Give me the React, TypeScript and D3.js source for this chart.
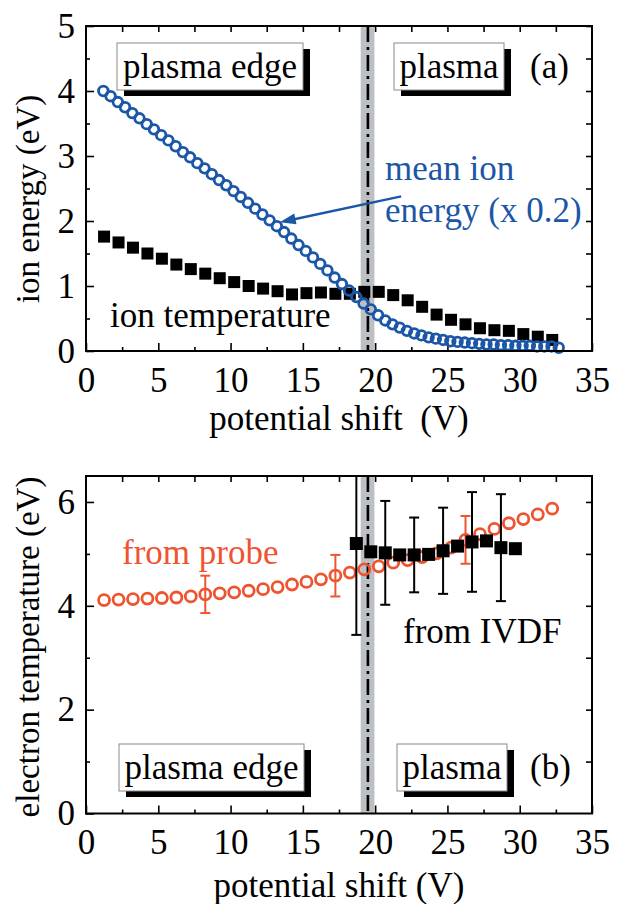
import * as d3 from 'd3'
import { useEffect, useRef } from 'react'

const W = 621
const H = 904
const FONT = "'Liberation Serif', 'Times New Roman', serif"
const BLUE = '#1b56a7'
const ORANGE = '#ef5430'

// panel (a): mean ion energy (x 0.2), open circles
const energyShift = [
  1.2, 1.7, 2.2, 2.7, 3.2, 3.7, 4.2, 4.7, 5.2, 5.7, 6.2, 6.7, 7.2, 7.7, 8.2, 8.7,
  9.2, 9.7, 10.2, 10.7, 11.2, 11.7, 12.2, 12.7, 13.2, 13.7, 14.2, 14.7, 15.2, 15.7, 16.2, 16.7,
  17.2, 17.7, 18.2, 18.7, 19.2, 19.7, 20.2, 20.7, 21.2, 21.7, 22.2, 22.7, 23.2, 23.7, 24.2, 24.7,
  25.2, 25.7, 26.2, 26.7, 27.2, 27.7, 28.2, 28.7, 29.2, 29.7, 30.2, 30.7, 31.2, 31.7, 32.2, 32.7
]
const meanEnergy = [
  4.0, 3.92, 3.83, 3.75, 3.66, 3.58, 3.49, 3.41, 3.32, 3.24, 3.15, 3.06, 2.98, 2.89, 2.81, 2.72,
  2.63, 2.55, 2.46, 2.37, 2.28, 2.19, 2.1, 2.01, 1.92, 1.83, 1.73, 1.63, 1.54, 1.44, 1.34, 1.24,
  1.13, 1.03, 0.93, 0.83, 0.73, 0.64, 0.55, 0.47, 0.41, 0.36, 0.31, 0.27, 0.24, 0.21, 0.19, 0.17,
  0.15, 0.14, 0.13, 0.12, 0.11, 0.1, 0.1, 0.09, 0.09, 0.08, 0.08, 0.08, 0.07, 0.07, 0.07, 0.05
]

// panel (a): ion temperature, filled squares
const ionTShift = [
  1.25, 2.25, 3.25, 4.25, 5.25, 6.25, 7.25, 8.25, 9.25, 10.25, 11.25, 12.25, 13.25, 14.25, 15.25, 16.25,
  17.25, 18.25, 19.25, 20.25, 21.25, 22.25, 23.25, 24.25, 25.25, 26.25, 27.25, 28.25, 29.25, 30.25, 31.25, 32.25
]
const ionTemp = [
  1.76, 1.67, 1.59, 1.5, 1.42, 1.33, 1.26, 1.19, 1.12, 1.06, 1.0, 0.96, 0.92, 0.87, 0.89, 0.9,
  0.88, 0.88, 0.91, 0.91, 0.86, 0.78, 0.68, 0.56, 0.48, 0.41, 0.35, 0.32, 0.31, 0.26, 0.22, 0.17
]

// panel (b): electron temperature from probe
const probeShift = [
  1.25, 2.25, 3.25, 4.25, 5.25, 6.25, 7.25, 8.25, 9.25, 10.25, 11.25, 12.25, 13.25, 14.25, 15.25, 16.25,
  17.25, 18.25, 19.25, 20.25, 21.25, 22.25, 23.25, 24.25, 25.25, 26.25, 27.25, 28.25, 29.25, 30.25, 31.25, 32.25
]
const probeTe = [
  4.11, 4.12, 4.13, 4.14, 4.15, 4.16, 4.18, 4.22, 4.24, 4.26, 4.29, 4.32, 4.36, 4.41, 4.46, 4.51,
  4.58, 4.64, 4.7, 4.76, 4.83, 4.88, 4.94, 5.01, 5.12, 5.27, 5.38, 5.48, 5.59, 5.67, 5.76, 5.87
]
const probeErr = [
  0, 0, 0, 0, 0, 0, 0, 0.36, 0, 0, 0, 0, 0, 0, 0, 0,
  0.4, 0, 0, 0, 0, 0, 0, 0, 0, 0.46, 0, 0, 0, 0, 0, 0
]

// panel (b): electron temperature from IVDF
const ivdfShift = [18.7, 19.7, 20.7, 21.7, 22.7, 23.7, 24.7, 25.7, 26.7, 27.7, 28.7, 29.7]
const ivdfTe = [5.2, 5.04, 5.02, 4.98, 4.98, 4.99, 5.06, 5.15, 5.23, 5.25, 5.12, 5.1]
const ivdfErr = [1.76, 0, 1.0, 0, 0.72, 0, 0.83, 0, 0.96, 0, 1.03, 0]

// sheath edge
const bandStart = 19.0
const bandEnd = 19.95
const edgeShift = 19.5

const x = d3.scaleLinear().domain([0, 35]).range([86, 592])

function drawPanel(svg, p) {
  const g = svg.append('g')
  const y = d3.scaleLinear().domain([0, p.yMax]).range([p.bottom, p.top])

  g.append('rect')
    .attr('x', x(bandStart)).attr('y', p.top)
    .attr('width', x(bandEnd) - x(bandStart)).attr('height', p.bottom - p.top)
    .attr('fill', '#bcc0c2')
  g.append('line')
    .attr('x1', x(edgeShift)).attr('x2', x(edgeShift))
    .attr('y1', p.top).attr('y2', p.bottom)
    .attr('stroke', 'black').attr('stroke-width', 2.6)
    .attr('stroke-dasharray', '16,5,3,5')

  // axes, inward ticks
  const addAxis = (axis, transform) => {
    const a = g.append('g').attr('transform', transform).call(axis)
    a.select('.domain').remove()
    a.selectAll('line').attr('stroke-width', 1.6)
    a.selectAll('text').attr('font-family', FONT).attr('font-size', 35).attr('fill', 'black')
    return a
  }
  addAxis(d3.axisBottom(x).tickValues(d3.range(0, 36, 5)).tickSizeInner(-8).tickSizeOuter(0).tickPadding(16),
    `translate(0,${p.bottom})`)
  addAxis(d3.axisBottom(x).tickValues(d3.range(2.5, 35, 5)).tickSize(-4).tickFormat(() => ''),
    `translate(0,${p.bottom})`)
  addAxis(d3.axisTop(x).tickValues(d3.range(2.5, 35, 2.5)).tickSize(-6).tickFormat(() => ''),
    `translate(0,${p.top})`)
  addAxis(d3.axisLeft(y).tickValues(d3.range(0, p.yMax + 0.01, p.yStep)).tickSizeInner(-8).tickSizeOuter(0)
    .tickPadding(11).tickFormat(d3.format('d')), `translate(86,0)`)
  addAxis(d3.axisLeft(y).tickValues(d3.range(p.yStep / 2, p.yMax, p.yStep)).tickSize(-4).tickFormat(() => ''),
    `translate(86,0)`)
  addAxis(d3.axisRight(y).tickValues(d3.range(p.yStep / 2, p.yMax + 0.01, p.yStep / 2)).tickSize(-6).tickFormat(() => ''),
    `translate(592,0)`)

  p.draw(g, y)

  g.append('rect')
    .attr('x', 86).attr('y', p.top).attr('width', 592 - 86).attr('height', p.bottom - p.top)
    .attr('fill', 'none').attr('stroke', 'black').attr('stroke-width', 2)

  // region boxes
  const box = (x0, x1, label) => {
    const by = p.boxTop
    g.append('rect').attr('x', x0 + 7).attr('y', by + 6).attr('width', x1 - x0).attr('height', 47).attr('fill', 'black')
    g.append('rect').attr('x', x0).attr('y', by).attr('width', x1 - x0).attr('height', 47)
      .attr('fill', 'white').attr('stroke', '#8a8a8a').attr('stroke-width', 1)
    g.append('text').attr('x', (x0 + x1) / 2).attr('y', by + 35).attr('text-anchor', 'middle')
      .attr('font-family', FONT).attr('font-size', 35).text(label)
  }
  box(p.edgeBox[0], p.edgeBox[1], 'plasma edge')
  box(p.plasmaBox[0], p.plasmaBox[1], 'plasma')
  g.append('text').attr('x', 530).attr('y', p.boxTop + 35)
    .attr('font-family', FONT).attr('font-size', 35).text(p.tag)

  g.append('text').attr('x', 339).attr('y', p.xLabelY).attr('text-anchor', 'middle')
    .attr('font-family', FONT).attr('font-size', 35)
    .style('white-space', 'pre').text(p.xLabel)
  g.append('text').attr('transform', `translate(39,${p.yLabelMid}) rotate(-90)`).attr('text-anchor', 'middle')
    .attr('font-family', FONT).attr('font-size', p.yLabelSize).text(p.yLabel)
}

export default function App() {
  const svgRef = useRef(null)

  useEffect(() => {
    const svg = d3.select(svgRef.current)
    svg.selectAll('*').remove()

    drawPanel(svg, {
      top: 26, bottom: 351, yMax: 5, yStep: 1,
      edgeBox: [117, 303], plasmaBox: [394, 504], boxTop: 43, tag: '(a)',
      xLabel: 'potential shift  (V)', xLabelY: 430,
      yLabel: 'ion energy (eV)', yLabelMid: 199, yLabelSize: 33,
      draw: (g, y) => {
        g.append('g').selectAll('rect').data(ionTShift).join('rect')
          .attr('x', d => x(d) - 6).attr('y', (d, i) => y(ionTemp[i]) - 6)
          .attr('width', 12).attr('height', 12).attr('fill', 'black')
        g.append('g').selectAll('circle').data(energyShift).join('circle')
          .attr('cx', d => x(d)).attr('cy', (d, i) => y(meanEnergy[i])).attr('r', 4.8)
          .attr('fill', 'none').attr('stroke', BLUE).attr('stroke-width', 2.8)

        const x1 = x(21.8), y1 = y(2.38), x2 = x(13.4), y2 = y(1.98)
        const ang = Math.atan2(y2 - y1, x2 - x1)
        g.append('line').attr('x1', x1).attr('y1', y1)
          .attr('x2', x2 - 10 * Math.cos(ang)).attr('y2', y2 - 10 * Math.sin(ang))
          .attr('stroke', BLUE).attr('stroke-width', 2.4)
        const head = [[0, 0], [-16, -5.5], [-16, 5.5]].map(([a, b]) => [
          x2 + a * Math.cos(ang) - b * Math.sin(ang), y2 + a * Math.sin(ang) + b * Math.cos(ang)
        ])
        g.append('polygon').attr('points', head.map(d => d.join(',')).join(' ')).attr('fill', BLUE)

        g.append('text').attr('x', 385).attr('y', 180).attr('font-family', FONT).attr('font-size', 35)
          .attr('fill', BLUE).text('mean ion')
        g.append('text').attr('x', 385).attr('y', 222).attr('font-family', FONT).attr('font-size', 35)
          .attr('fill', BLUE).text('energy (x 0.2)')
        g.append('text').attr('x', 110).attr('y', 327).attr('font-family', FONT).attr('font-size', 35)
          .text('ion temperature')
      }
    })

    drawPanel(svg, {
      top: 476, bottom: 813.5, yMax: 6.5, yStep: 2,
      edgeBox: [119, 304], plasmaBox: [397, 507], boxTop: 744, tag: '(b)',
      xLabel: 'potential shift (V)', xLabelY: 897,
      yLabel: 'electron temperature (eV)', yLabelMid: 647, yLabelSize: 33,
      draw: (g, y) => {
        const cap = 5
        const errBars = (xs, vs, es, color) => {
          xs.forEach((d, i) => {
            if (!es[i]) return
            const hi = vs[i] + es[i]
            const yTop = y(Math.min(hi, 6.5))
            const yBot = y(vs[i] - es[i])
            g.append('line').attr('x1', x(d)).attr('x2', x(d)).attr('y1', yTop).attr('y2', yBot)
              .attr('stroke', color).attr('stroke-width', 2)
            if (hi <= 6.5) g.append('line').attr('x1', x(d) - cap).attr('x2', x(d) + cap).attr('y1', yTop).attr('y2', yTop)
              .attr('stroke', color).attr('stroke-width', 2)
            g.append('line').attr('x1', x(d) - cap).attr('x2', x(d) + cap).attr('y1', yBot).attr('y2', yBot)
              .attr('stroke', color).attr('stroke-width', 2)
          })
        }
        errBars(probeShift, probeTe, probeErr, ORANGE)
        g.append('g').selectAll('circle').data(probeShift).join('circle')
          .attr('cx', d => x(d)).attr('cy', (d, i) => y(probeTe[i])).attr('r', 5.5)
          .attr('fill', 'none').attr('stroke', ORANGE).attr('stroke-width', 2.8)
        errBars(ivdfShift, ivdfTe, ivdfErr, 'black')
        g.append('g').selectAll('rect').data(ivdfShift).join('rect')
          .attr('x', d => x(d) - 6.5).attr('y', (d, i) => y(ivdfTe[i]) - 6.5)
          .attr('width', 13).attr('height', 13).attr('fill', 'black')

        g.append('text').attr('x', 122).attr('y', 564).attr('font-family', FONT).attr('font-size', 35)
          .attr('fill', ORANGE).text('from probe')
        g.append('text').attr('x', 403).attr('y', 643).attr('font-family', FONT).attr('font-size', 35)
          .text('from IVDF')
      }
    })
  }, [])

  return (
    <svg ref={svgRef} width={W} height={H}
      style={{ position: 'absolute', left: 0, top: 0, background: 'white' }} />
  )
}
